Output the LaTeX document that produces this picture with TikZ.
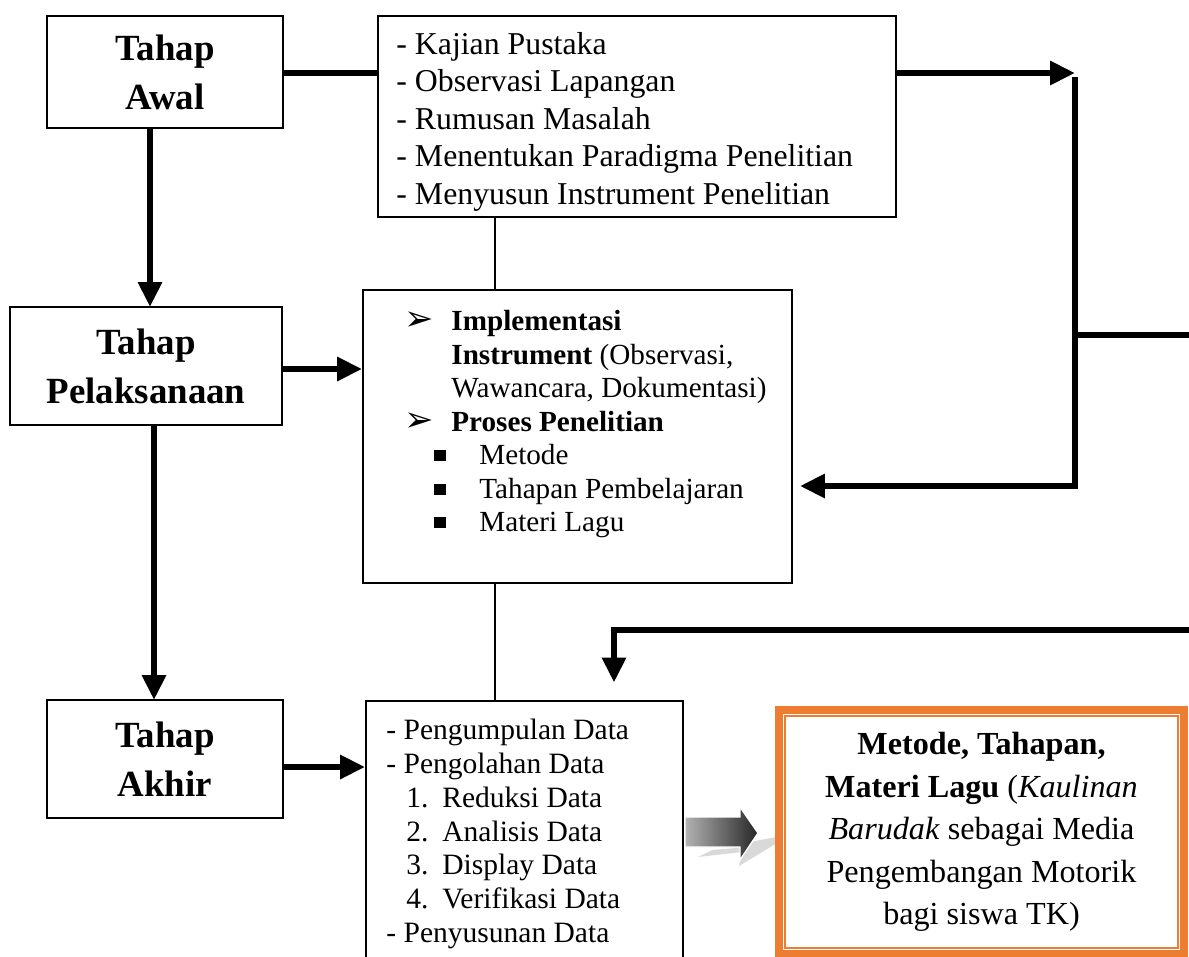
\documentclass[tikz,border=0pt]{standalone}
\usepackage{fontspec}
\setmainfont{Liberation Serif}
\newfontfamily\symfont{DejaVu Sans}
\usetikzlibrary{arrows.meta}

\definecolor{orangeC}{RGB}{237,125,49}
\newcommand{\arrbul}{{\symfont\fontsize{20}{20}\selectfont\char"27A2}}
\newcommand{\sqbul}{\rule[0.12em]{0.38em}{0.38em}}

\begin{document}
\begin{tikzpicture}[
    x=0.02cm, y=-0.02cm,
    stage/.style={draw, line width=1.1pt, align=center, minimum width=4.72cm, minimum height=2.36cm,
      inner sep=0pt, font=\fontsize{21}{28}\selectfont\bfseries},
    listbox/.style={draw, line width=1.1pt, inner sep=0pt},
    listtxt/.style={anchor=north west, align=left, inner sep=0pt},
    result/.style={draw=orangeC, fill=white, line width=4.2pt, align=center, inner sep=0pt,
      minimum width=8.1cm, minimum height=4.88cm, font=\fontsize{18.3}{24.2}\selectfont},
    link/.style={line width=0.8pt},
    heavy/.style={line width=3.5pt},
    arr/.style={heavy, -{Triangle[length=0.5cm, width=0.46cm]}}
  ]
  \useasboundingbox (0,0) rectangle (1189,956);

  % stages on the left
  \node[stage, minimum height=2.24cm] (awal) at (165,72) {Tahap\\Awal};
  \node[stage, minimum width=5.44cm] (pelak) at (146,366) {Tahap\\Pelaksanaan};
  \node[stage] (akhir) at (165,759) {Tahap\\Akhir};

  % activity boxes
  \node[listbox, minimum width=10.36cm, minimum height=4.02cm] (kajian) at (637,116.5) {};
  \node[listbox, minimum width=8.58cm, minimum height=5.86cm] (proses) at (577.5,436.5) {};
  \node[listbox, minimum width=6.34cm, minimum height=6.2cm] (data) at (524.5,856) {};

  \node[listtxt, font=\fontsize{18.1}{21.3}\selectfont] (kajiantxt)
    at ([xshift=0.38cm, yshift=-0.34cm]kajian.north west) {%
    - Kajian Pustaka\\
    - Observasi Lapangan\\
    - Rumusan Masalah\\
    - Menentukan Paradigma Penelitian\\
    - Menyusun Instrument Penelitian};

  \node[listtxt, font=\fontsize{16.6}{19.1}\selectfont] (prosestxt)
    at ([xshift=0.84cm, yshift=-0.42cm]proses.north west) {%
    \makebox[0.94cm][l]{\arrbul}\textbf{Implementasi}\\
    \hspace*{0.94cm}\textbf{Instrument} (Observasi,\\
    \hspace*{0.94cm}Wawancara, Dokumentasi)\\
    \makebox[0.94cm][l]{\arrbul}\textbf{Proses Penelitian}\\
    \hspace*{0.6cm}\makebox[0.9cm][l]{\sqbul}Metode\\
    \hspace*{0.6cm}\makebox[0.9cm][l]{\sqbul}Tahapan Pembelajaran\\
    \hspace*{0.6cm}\makebox[0.9cm][l]{\sqbul}Materi Lagu};

  \node[listtxt, font=\fontsize{16.8}{19.2}\selectfont] (datatxt)
    at ([xshift=0.42cm, yshift=-0.38cm]data.north west) {%
    - Pengumpulan Data\\
    - Pengolahan Data\\
    \hspace*{0.4cm}\makebox[0.72cm][l]{1.}Reduksi Data\\
    \hspace*{0.4cm}\makebox[0.72cm][l]{2.}Analisis Data\\
    \hspace*{0.4cm}\makebox[0.72cm][l]{3.}Display Data\\
    \hspace*{0.4cm}\makebox[0.72cm][l]{4.}Verifikasi Data\\
    - Penyusunan Data};

  % 3d arrow towards the result
  \fill[gray!30] (698,857) -- (742,852) -- (739,866) -- (792,834) -- (750,842)
    -- (748,847) -- (712,850) -- cycle;
  \shade[left color=gray!60, right color=black!85, draw=white, line width=0.8pt]
    (685,817) -- (740,817) -- (740,807) -- (758,833) -- (740,860) -- (740,847)
    -- (685,847) -- cycle;

  % result box
  \node[result] (hasil) at (981.5,832) {%
    \textbf{Metode, Tahapan,}\\
    \textbf{Materi Lagu} (\textit{Kaulinan}\\
    \textit{Barudak} sebagai Media\\
    Pengembangan Motorik\\
    bagi siswa TK)};
  \draw[orangeC, line width=1.2pt] ([shift={(0.19cm,-0.19cm)}]hasil.north west)
    rectangle ([shift={(-0.19cm,0.19cm)}]hasil.south east);

  % coordinates of the feedback rails
  \coordinate (railTop) at (1075,77);
  \coordinate (railMid) at (1075,335);
  \coordinate (railBot) at (1075,486);
  \coordinate (edgeMid) at (1189,335);
  \coordinate (edgeLow) at (1189,630);
  \coordinate (dropX) at (614,630);
  \coordinate (linkX) at (495,0);

  % connectors
  \draw[heavy] (awal.east |- 0,73) -- (kajian.west |- 0,73);
  \draw[arr] (kajian.east |- 0,73) -- (1075,73);
  \draw[arr, shorten >=4pt] (railTop) -- (railBot) -- (railBot -| proses.east);
  \draw[heavy] (railMid) -- (edgeMid);
  \draw[arr, shorten >=10pt] (edgeLow) -- (dropX) -- (dropX |- data.north);

  \draw[arr] (150,128) -- (150,307);
  \draw[arr] (154,424) -- (154,700);
  \draw[arr] (pelak.east |- 0,369) -- (proses.west |- 0,369);
  \draw[arr] (akhir.east |- 0,767) -- (data.west |- 0,767);

  \draw[link] (linkX |- kajian.south) -- (linkX |- proses.north);
  \draw[link] (linkX |- proses.south) -- (linkX |- data.north);
\end{tikzpicture}
\end{document}
